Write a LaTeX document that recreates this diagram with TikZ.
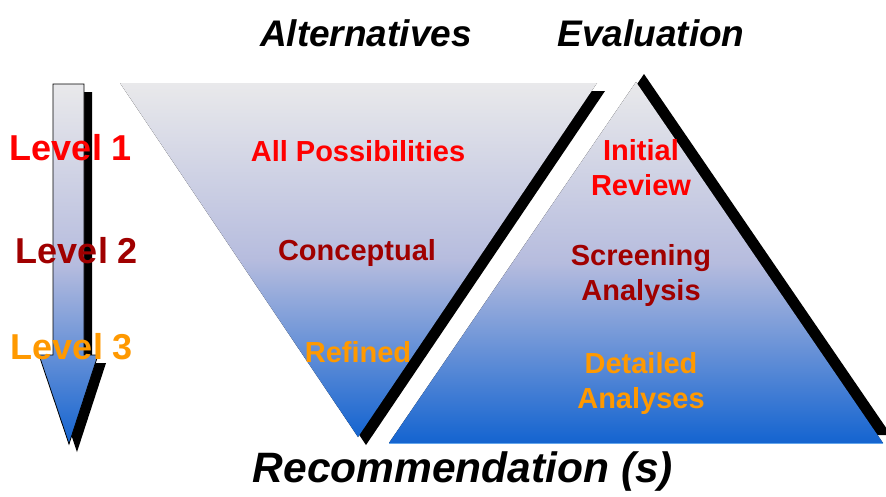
\documentclass[tikz,border=0pt]{standalone}
\usepackage{fontspec}
\setmainfont{Liberation Sans}
\definecolor{gtop}{RGB}{233,233,235}
\definecolor{gmid}{RGB}{182,188,222}
\definecolor{gbot}{RGB}{20,100,208}
\definecolor{lvone}{RGB}{255,0,0}
\definecolor{lvtwo}{RGB}{160,0,0}
\definecolor{lvthree}{RGB}{255,153,0}
\definecolor{edgeblue}{RGB}{100,165,235}
\tikzset{
  gradfill/.style={top color=gtop, bottom color=gbot, middle color=gmid, draw=none},
  shadowfill/.style={fill=black, draw=none},
  lbl/.style={font=\fontsize{29}{35}\selectfont\bfseries, align=center, inner sep=0pt},
  lvl/.style={font=\fontsize{36}{40}\selectfont\bfseries, inner sep=0pt},
  ttl/.style={font=\fontsize{37}{40}\selectfont\bfseries\itshape, inner sep=0pt, text=black},
}
\begin{document}
\begin{tikzpicture}[x=1pt,y=-1pt]
\useasboundingbox (0,0) rectangle (886,496);
\fill[white] (0,0) rectangle (886,496);
\clip (0,0) rectangle (886,496);
% ---- left arrow ----
\fill[shadowfill] (61,92) -- (92,92) -- (92,363) -- (106,363) -- (77,452) -- (47,363) -- (61,363) -- cycle;
\draw[gradfill, draw=black, line width=0.8pt] (53,84) -- (84,84) -- (84,355) -- (98,355) -- (69,444) -- (39,355) -- (53,355) -- cycle;
% ---- inverted triangle (Alternatives) ----
\fill[shadowfill] (128,91) -- (605,91) -- (366,445) -- cycle;
\fill[gradfill] (120,83) -- (597,83) -- (358,437) -- cycle;
% ---- upright triangle (Evaluation) ----
\fill[shadowfill] (397,435) -- (644,74) -- (891,435) -- cycle;
\fill[gradfill] (389,443) -- (636,82) -- (883,443) -- cycle;
\draw[edgeblue, line width=1pt] (389,443.5) -- (883,443.5);
% ---- titles ----
\node[ttl] (alt) at (366,33) {Alternatives};
\node[ttl] (eval) at (651,33) {Evaluation};
\node[ttl, font=\fontsize{42.5}{46}\selectfont\bfseries\itshape] (rec) at (463,472) {Recommendation (s)};
% ---- level labels ----
\node[lvl, text=lvone] (l1) at (71,148) {Level 1};
\node[lvl, text=lvtwo] (l2) at (77,251) {Level 2};
\node[lvl, text=lvthree] (l3) at (72,347) {Level 3};
% ---- triangle labels ----
\node[lbl, text=lvone] (allp) at (358,151) {All Possibilities};
\node[lbl, text=lvtwo] (conc) at (357,253) {Conceptual};
\node[lbl, text=lvthree] (refi) at (358,352) {Refined};
\node[lbl, text=lvone] (init) at (641,168) {Initial\\Review};
\node[lbl, text=lvtwo] (scr) at (641,275) {Screening\\Analysis};
\node[lbl, text=lvthree] (det) at (641,383) {Detailed\\Analyses};
\end{tikzpicture}
\end{document}
